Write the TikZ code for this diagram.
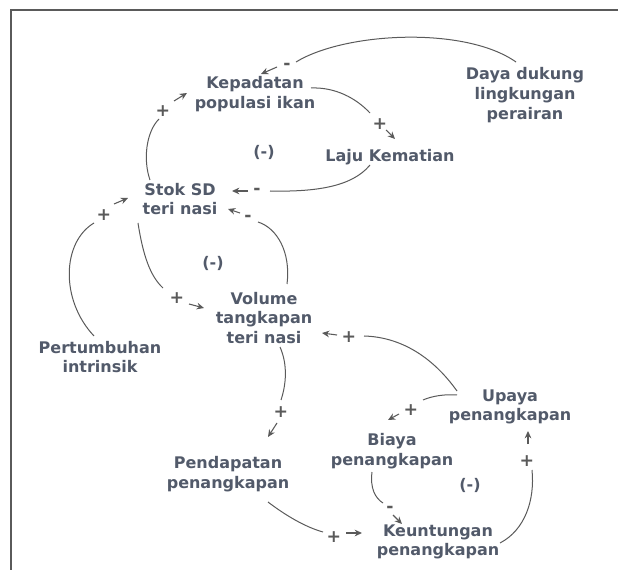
\documentclass[tikz,border=0pt]{standalone}
\usepackage{fontspec}
\setmainfont{DejaVu Sans}
\usetikzlibrary{arrows.meta}
\definecolor{txt}{HTML}{525A6A}
\definecolor{ln}{HTML}{5A5A5A}
\begin{document}
\begin{tikzpicture}[x=0.75pt,y=-0.75pt,
  lbl/.style={font=\bfseries\fontsize{12}{14.8}\selectfont, text=txt, align=center, inner sep=0pt},
  sgn/.style={font=\bfseries\fontsize{13}{14}\selectfont, text=ln, inner sep=0pt},
  link/.style={draw=ln, line width=0.75pt},
  tipar/.style={draw=ln, line width=0.8pt, -{Stealth[length=5.5pt,width=5pt]}},
  frame/.style={draw=ln, line width=1.3pt}]
\useasboundingbox (0,0) rectangle (618,570);
% frame
\coordinate (fa) at (618,10);
\coordinate (fb) at (11,10);
\coordinate (fc) at (11,570);
\draw[frame] (fa) -- (fb) -- (fc);

% nodes
\node[lbl] (daya) at (525,95) {Daya dukung\\lingkungan\\perairan};
\node[lbl] (kep) at (255,94) {Kepadatan\\populasi ikan};
\node[lbl] (laju) at (390,157) {Laju Kematian};
\node[lbl] (stok) at (180,199) {Stok SD\\teri nasi};
\node[lbl] (vol) at (264,318) {Volume\\tangkapan\\teri nasi};
\node[lbl] (pert) at (100,357) {Pertumbuhan\\intrinsik};
\node[lbl] (upaya) at (510,407) {Upaya\\penangkapan};
\node[lbl] (biaya) at (392,451) {Biaya\\penangkapan};
\node[lbl] (pend) at (228,474) {Pendapatan\\penangkapan};
\node[lbl] (keun) at (438,542) {Keuntungan\\penangkapan};
\node[lbl] (l1) at (264,152) {(-)};
\node[lbl] (l2) at (213,263) {(-)};
\node[lbl] (l3) at (470,485) {(-)};

% C1 Daya -> Kepadatan (-)
\coordinate (c1a) at (516,62);
\coordinate (c1b) at (296,62);
\draw[link] (c1a) .. controls (465,26) and (345,32) .. (c1b);
\node[sgn] (s1) at (287,66) {-};
\coordinate (c1t) at (277,67);
\coordinate (c1h) at (261,74);
\draw[tipar] (c1t) -- (c1h);

% C2 Kepadatan -> Laju (+)
\coordinate (c2a) at (311,88);
\coordinate (c2b) at (370,113);
\draw[link] (c2a) .. controls (335,87) and (356,98) .. (c2b);
\node[sgn] (s2) at (380,124) {+};
\coordinate (c2t) at (386,130);
\coordinate (c2h) at (395,139);
\draw[tipar] (c2t) -- (c2h);

% C3 Laju -> Stok (-)
\coordinate (c3a) at (370,165);
\coordinate (c3b) at (270,191);
\draw[link] (c3a) .. controls (352,187) and (315,192) .. (c3b);
\node[sgn] (s3) at (257,191) {-};
\coordinate (c3t) at (248,191);
\coordinate (c3h) at (232,191);
\draw[tipar] (c3t) -- (c3h);

% C4 Volume -> Stok (-)
\coordinate (c4a) at (287,284);
\coordinate (c4b) at (258,222);
\draw[link] (c4a) .. controls (291,252) and (277,228) .. (c4b);
\node[sgn] (s4) at (248,218) {-};
\coordinate (c4t) at (240,213);
\coordinate (c4h) at (228,209);
\draw[tipar] (c4t) -- (c4h);

% C5 Stok -> Kepadatan (+)
\coordinate (c5a) at (150,180);
\coordinate (c5b) at (159,119);
\draw[link] (c5a) .. controls (143,160) and (146,132) .. (c5b);
\node[sgn] (s5) at (163,111) {+};
\coordinate (c5t) at (174,101);
\coordinate (c5h) at (187,93);
\draw[tipar] (c5t) -- (c5h);

% C6 Pertumbuhan -> Stok (+)
\coordinate (c6a) at (94,336);
\coordinate (c6b) at (94,223);
\draw[link] (c6a) .. controls (60,300) and (62,242) .. (c6b);
\node[sgn] (s6) at (104,215) {+};
\coordinate (c6t) at (114,204);
\coordinate (c6h) at (128,198);
\draw[tipar] (c6t) -- (c6h);

% C7 Stok -> Volume (+)
\coordinate (c7a) at (138,223);
\coordinate (c7b) at (163,288);
\draw[link] (c7a) .. controls (143,255) and (150,276) .. (c7b);
\node[sgn] (s7) at (177,298) {+};
\coordinate (c7t) at (189,304);
\coordinate (c7h) at (204,308);
\draw[tipar] (c7t) -- (c7h);

% C8 Upaya -> Volume (+)
\coordinate (c8a) at (457,391);
\coordinate (c8b) at (364,336);
\draw[link] (c8a) .. controls (432,356) and (400,337) .. (c8b);
\node[sgn] (s8) at (349,337) {+};
\coordinate (c8t) at (337,335);
\coordinate (c8h) at (322,333);
\draw[tipar] (c8t) -- (c8h);

% C9 Volume -> Pendapatan (+)
\coordinate (c9a) at (280,347);
\coordinate (c9b) at (281,400);
\draw[link] (c9a) .. controls (288,365) and (286,385) .. (c9b);
\node[sgn] (s9) at (281,412) {+};
\coordinate (c9t) at (277,423);
\coordinate (c9h) at (268,437);
\draw[tipar] (c9t) -- (c9h);

% C10 Upaya -> Biaya (+)
\coordinate (c10a) at (457,395);
\coordinate (c10b) at (423,400);
\draw[link] (c10a) .. controls (445,394) and (432,396) .. (c10b);
\node[sgn] (s10) at (411,410) {+};
\coordinate (c10t) at (399,414);
\coordinate (c10h) at (388,420);
\draw[tipar] (c10t) -- (c10h);

% C11 Biaya -> Keuntungan (-)
\coordinate (c11a) at (372,472);
\coordinate (c11b) at (383,503);
\draw[link] (c11a) .. controls (370,488) and (375,498) .. (c11b);
\node[sgn] (s11) at (390,509) {-};
\coordinate (c11t) at (393,515);
\coordinate (c11h) at (402,524);
\draw[tipar] (c11t) -- (c11h);

% C12 Pendapatan -> Keuntungan (+)
\coordinate (c12a) at (268,502);
\coordinate (c12b) at (323,532);
\draw[link] (c12a) .. controls (285,515) and (305,527) .. (c12b);
\node[sgn] (s12) at (334,537) {+};
\coordinate (c12t) at (346,533);
\coordinate (c12h) at (362,533);
\draw[tipar] (c12t) -- (c12h);

% C13 Keuntungan -> Upaya (+)
\coordinate (c13a) at (500,543);
\coordinate (c13b) at (532,470);
\draw[link] (c13a) .. controls (525,530) and (535,500) .. (c13b);
\node[sgn] (s13) at (527,461) {+};
\coordinate (c13t) at (528,444);
\coordinate (c13h) at (528,431);
\draw[tipar] (c13t) -- (c13h);
\end{tikzpicture}
\end{document}
